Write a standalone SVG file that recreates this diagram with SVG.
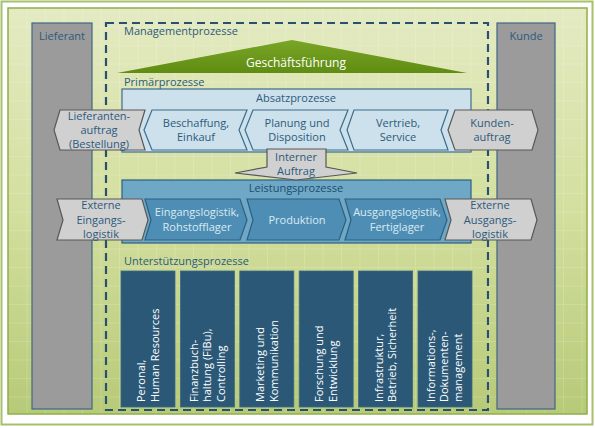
<svg xmlns="http://www.w3.org/2000/svg" width="595" height="428" viewBox="0 0 595 428">
<defs>
<linearGradient id="panel" x1="0" y1="0" x2="0" y2="1">
<stop offset="0" stop-color="#e4eac2"/>
<stop offset="0.5" stop-color="#d3df9e"/>
<stop offset="1" stop-color="#b7ca78"/>
</linearGradient>
<linearGradient id="tri" x1="0" y1="0" x2="0" y2="1">
<stop offset="0" stop-color="#7aa626"/>
<stop offset="1" stop-color="#5f8c12"/>
</linearGradient>
<pattern id="grid" x="8" y="8" width="18.5" height="18.5" patternUnits="userSpaceOnUse">
<path d="M0 0H18.5M0 0V18.5" fill="none" stroke="#ffffff" stroke-opacity="0.3" stroke-width="1"/>
</pattern>
</defs>
<style>
text{font-family:"Open Sans","Noto Sans","Liberation Sans",sans-serif;font-size:11px;fill:#2c5a7c}
.c{text-anchor:middle}
.col{fill:#9b9b9b;stroke:#3f6686;stroke-width:1.2}
.gray{fill:#d0d0d0;stroke:#585858;stroke-width:1.2}
.lb{fill:#cce1eb;stroke:#3d6d8e;stroke-width:1.2}
.db{fill:#4f8eb4;stroke:#2d5f80;stroke-width:1.2}
.sup{fill:#2b5877;stroke:#3a6a88;stroke-width:0.8}
.w{fill:#ffffff}
.lt{fill:#d9eaf3}
</style>
<rect x="0" y="0" width="595" height="428" fill="#ffffff"/>
<rect x="1.5" y="1.5" width="591" height="423" fill="none" stroke="#a6c06c" stroke-width="2"/>
<rect x="8" y="8" width="579" height="406" fill="url(#panel)" stroke="#8fae48" stroke-width="1.5"/>
<rect x="9" y="9" width="577" height="404" fill="url(#grid)"/>

<g id="lieferant">
<rect class="col" x="32" y="23" width="60" height="386"/>
<text class="c" x="62" y="40">Lieferant</text>
</g>
<g id="kunde">
<rect class="col" x="497" y="23" width="58" height="386"/>
<text class="c" x="526" y="40">Kunde</text>
</g>

<g id="managementprozesse">
<rect x="106" y="23" width="382" height="387" fill="none" stroke="#2a5070" stroke-width="2.2" stroke-dasharray="8,5"/>
<text x="124" y="35">Managementprozesse</text>
</g>

<g id="geschaeftsfuehrung">
<polygon points="117,73 292,40 467,73" fill="url(#tri)"/>
<text class="c w" x="296" y="67" style="font-size:12px">Geschäftsführung</text>
</g>

<text x="124" y="86">Primärprozesse</text>

<g id="absatzprozesse">
<rect class="lb" x="122" y="89" width="349" height="63"/>
<text class="c" x="296" y="102">Absatzprozesse</text>
</g>

<g id="lieferantenauftrag">
<polygon class="gray" points="60,110 145,110 139,130 145,150 60,150 54,130"/>
<text class="c" x="99" y="120">Lieferanten-</text>
<text class="c" x="99" y="134">auftrag</text>
<text class="c" x="99" y="148">(Bestellung)</text>
</g>
<g id="beschaffung">
<polygon class="lb" points="152,110 247,110 239,130 247,150 152,150 144,130"/>
<text class="c" x="196" y="127">Beschaffung,</text>
<text class="c" x="196" y="141">Einkauf</text>
</g>
<g id="planung">
<polygon class="lb" points="253,110 348,110 340,130 348,150 253,150 245,130"/>
<text class="c" x="297" y="127">Planung und</text>
<text class="c" x="297" y="141">Disposition</text>
</g>
<g id="vertrieb">
<polygon class="lb" points="354,110 448,110 441,130 448,150 354,150 347,130"/>
<text class="c" x="398" y="127">Vertrieb,</text>
<text class="c" x="398" y="141">Service</text>
</g>
<g id="kundenauftrag">
<polygon class="gray" points="455,110 532,110 538,130 532,150 455,150 448,130"/>
<text class="c" x="492" y="127">Kunden-</text>
<text class="c" x="492" y="141">auftrag</text>
</g>

<g id="leistungsprozesse">
<rect x="122" y="180" width="349" height="63" fill="#6ea8c6" stroke="#2d5f80" stroke-width="1.2"/>
<text class="c" x="296" y="192" style="fill:#1e4d6e">Leistungsprozesse</text>
</g>

<g id="interner-auftrag">
<polygon class="gray" points="267,149 326,149 326,167 357,173 296,180 235,173 267,167"/>
<text class="c" x="296" y="161">Interner</text>
<text class="c" x="296" y="175">Auftrag</text>
</g>

<g id="externe-eingangslogistik">
<polygon class="gray" points="57,199 142,199 148,220 142,240 57,240 63,220"/>
<text class="c" x="101" y="209">Externe</text>
<text class="c" x="101" y="224">Eingangs-</text>
<text class="c" x="101" y="238">logistik</text>
</g>
<g id="eingangslogistik">
<polygon class="db" points="145,199 240,199 247,220 240,240 145,240 151,220"/>
<text class="c lt" x="197" y="216">Eingangslogistik,</text>
<text class="c lt" x="197" y="231">Rohstofflager</text>
</g>
<g id="produktion">
<polygon class="db" points="247,199 339,199 346,220 339,240 247,240 253,220"/>
<text class="c lt" x="297" y="224">Produktion</text>
</g>
<g id="ausgangslogistik">
<polygon class="db" points="345,199 440,199 447,220 440,240 345,240 351,220"/>
<text class="c lt" x="397" y="216">Ausgangslogistik,</text>
<text class="c lt" x="397" y="231">Fertiglager</text>
</g>
<g id="externe-ausgangslogistik">
<polygon class="gray" points="445,199 531,199 537,220 531,240 445,240 451,220"/>
<text class="c" x="490" y="209">Externe</text>
<text class="c" x="490" y="224">Ausgangs-</text>
<text class="c" x="490" y="238">logistik</text>
</g>

<text x="124" y="265">Unterstützungsprozesse</text>

<g id="personal">
<rect class="sup" x="121" y="271" width="54" height="136"/>
<text class="w" transform="translate(145.3,402) rotate(-90)"><tspan x="0">Peronal,</tspan><tspan x="0" dy="13.5">Human Resources</tspan></text>
</g>
<g id="finanzbuchhaltung">
<rect class="sup" x="180.4" y="271" width="54" height="136"/>
<text class="w" transform="translate(197.9,402) rotate(-90)"><tspan x="0">Finanzbuch-</tspan><tspan x="0" dy="13.5">haltung (FiBu),</tspan><tspan x="0" dy="13.5">Controlling</tspan></text>
</g>
<g id="marketing">
<rect class="sup" x="239.8" y="271" width="54" height="136"/>
<text class="w" transform="translate(264,402) rotate(-90)"><tspan x="0">Marketing und</tspan><tspan x="0" dy="13.5">Kommunikation</tspan></text>
</g>
<g id="forschung">
<rect class="sup" x="299.2" y="271" width="54" height="136"/>
<text class="w" transform="translate(323.4,402) rotate(-90)"><tspan x="0">Forschung und</tspan><tspan x="0" dy="13.5">Entwicklung</tspan></text>
</g>
<g id="infrastruktur">
<rect class="sup" x="358.6" y="271" width="54" height="136"/>
<text class="w" transform="translate(382.8,402) rotate(-90)"><tspan x="0">Infrastruktur,</tspan><tspan x="0" dy="13.5">Betrieb, Sicherheit</tspan></text>
</g>
<g id="informationsmanagement">
<rect class="sup" x="418" y="271" width="54" height="136"/>
<text class="w" transform="translate(434.5,402) rotate(-90)"><tspan x="0">Informations-,</tspan><tspan x="0" dy="13.5">Dokumenten-</tspan><tspan x="0" dy="13.5">management</tspan></text>
</g>

<g id="connectors"></g>
</svg>
